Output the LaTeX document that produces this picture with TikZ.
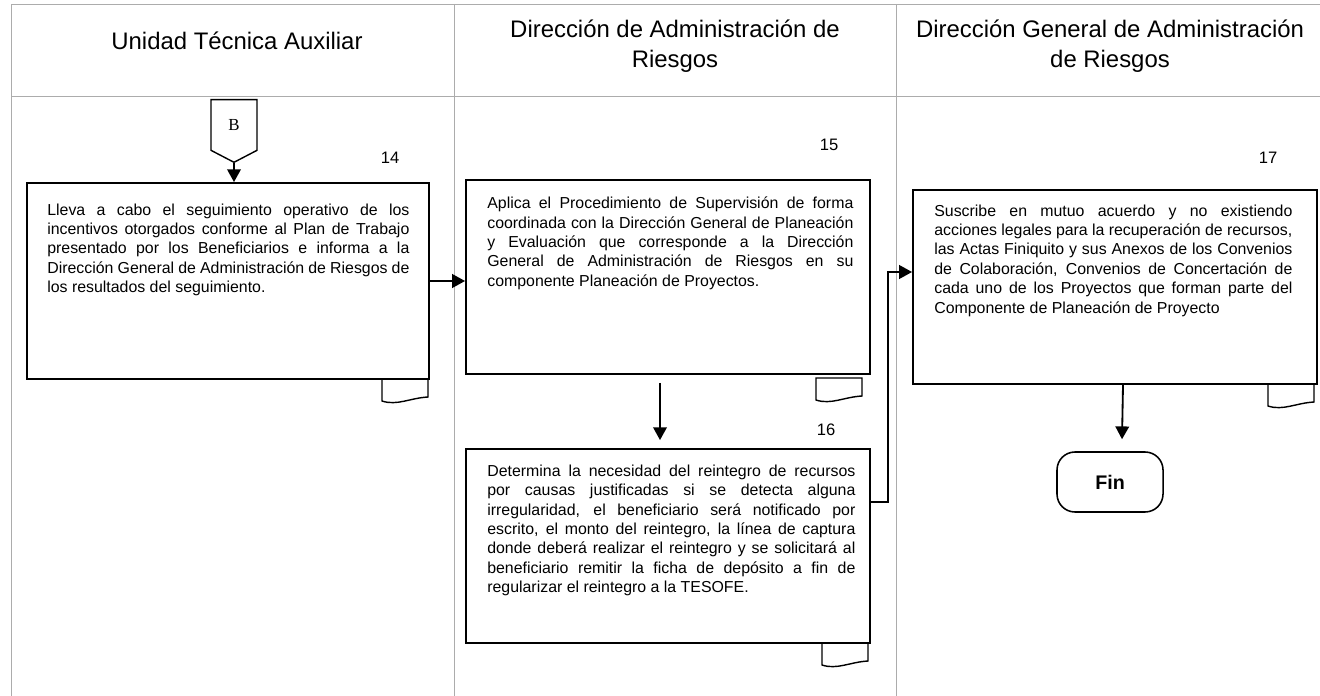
\documentclass[tikz,border=0pt]{standalone}
\usepackage{fontspec}
\setmainfont{Liberation Sans}
\newfontfamily\timesfont{Liberation Serif}
\usepackage{tikz}
\usetikzlibrary{positioning,arrows.meta,shapes.symbols}
\hyphenpenalty=10000
\exhyphenpenalty=10000

\tikzset{
  carril/.style={draw=gray!65,line width=0.7pt},
  titulo/.style={align=center,font=\fontsize{17}{21.3}\selectfont},
  paso/.style={draw,line width=1.3pt,inner sep=0pt},
  texto/.style={anchor=north west,inner sep=0pt,text width=9.15cm,align=justify,
    font=\fontsize{11.3}{13.8}\selectfont},
  num/.style={font=\fontsize{11.8}{14}\selectfont},
  flecha/.style={-{Triangle[width=0.34cm,length=0.32cm]},line width=1.3pt},
  conector/.style={signal,draw,line width=1pt,signal to=south,signal pointer angle=125,
    minimum width=1.15cm,minimum height=1.4cm,font=\timesfont\fontsize{12}{14}\selectfont},
  fin/.style={draw,line width=1.1pt,rounded corners=0.45cm,minimum width=2.65cm,
    minimum height=1.5cm,font=\bfseries\fontsize{14}{16}\selectfont},
  hoja/.pic={\draw[line width=1pt] (0,0) -- (0,22) .. controls (15,27) and (28,19) .. (46,18) -- (46,0) -- cycle;}
}

\begin{document}
\hyphenpenalty=10000
\exhyphenpenalty=10000
\begin{tikzpicture}[x=0.025cm,y=-0.025cm]
  \useasboundingbox (0,0) rectangle (1320,696);
  \draw[carril] (11,696) -- (11,4) -- (1320,4);
  \draw[carril] (11,96) -- (1320,96);
  \draw[carril] (454,4) -- (454,696);
  \draw[carril] (896,4) -- (896,696);

  \node[titulo] (h1) at (237,41) {Unidad Técnica Auxiliar};
  \node[titulo] (h2) at (675,46) {Dirección de Administración de\\Riesgos};
  \node[titulo] (h3) at (1110,46) {Dirección General de Administración\\de Riesgos};

  \node[conector] (B) at (234,125) {B};

  \node[paso,minimum width=10.05cm,minimum height=4.9cm] (p14) at (228,281) {};
  \node[paso,minimum width=10.1cm,minimum height=4.85cm] (p15) at (668,277) {};
  \node[paso,minimum width=10.1cm,minimum height=4.85cm] (p16) at (668,546) {};
  \node[paso,minimum width=10.1cm,minimum height=4.85cm] (p17) at (1115,287) {};
  \node[fin] (fin) at (1110,482) {Fin};

  \node[texto,text width=9.05cm] (t14) at ([xshift=0.525cm,yshift=-0.53cm]p14.north west) {Lleva a cabo el seguimiento operativo de los incentivos otorgados conforme al Plan de Trabajo presentado por los Beneficiarios e informa a la Dirección General de Administración de Riesgos de los resultados del seguimiento.};
  \node[texto] (t15) at ([xshift=0.55cm,yshift=-0.44cm]p15.north west) {Aplica el Procedimiento de Supervisión de forma coordinada con la Dirección General de Planeación\linebreak y Evaluación que corresponde a la Dirección\linebreak General de Administración de Riesgos en su\linebreak componente Planeación de Proyectos.};
  \node[texto,text width=9.2cm] (t16) at ([xshift=0.55cm,yshift=-0.41cm]p16.north west) {Determina la necesidad del reintegro de recursos por causas justificadas si se detecta alguna irregularidad, el beneficiario será notificado por escrito, el monto del reintegro, la línea de captura donde deberá realizar el reintegro y se solicitará al\linebreak beneficiario remitir la ficha de depósito a fin de regularizar el reintegro a la TESOFE.};
  \node[texto,text width=8.95cm] (t17) at ([xshift=0.55cm,yshift=-0.38cm]p17.north west) {Suscribe en mutuo acuerdo y no existiendo acciones legales para la recuperación de recursos, las Actas Finiquito y sus Anexos de los Convenios de Colaboración, Convenios de Concertación de cada uno de los Proyectos que forman parte del Componente de Planeación de Proyecto};

  \node[num] (n14) at (390,158) {14};
  \node[num] (n15) at (829,145) {15};
  \node[num] (n16) at (826,430) {16};
  \node[num] (n17) at (1268,158) {17};

  \pic at (382,379) {hoja};
  \pic at (816,378) {hoja};
  \pic at (822,643) {hoja};
  \pic at (1268,384) {hoja};

  \draw[flecha] (B.south) -- (B.south |- p14.north);
  \draw[flecha] (p14.east) -- (p14.east -| p15.west);
  \draw[flecha] ([xshift=-0.2cm,yshift=-0.2cm]p15.south) -- ([xshift=-0.2cm,yshift=0.2cm]p16.north);
  \draw[flecha] ([yshift=1.1cm]p16.east) -- ++(0.425cm,0) |- ([yshift=0.375cm]p17.west);
  \draw[flecha] ([xshift=0.2cm]p17.south) -- ([xshift=0.3cm,yshift=0.3cm]fin.north);
\end{tikzpicture}
\end{document}
